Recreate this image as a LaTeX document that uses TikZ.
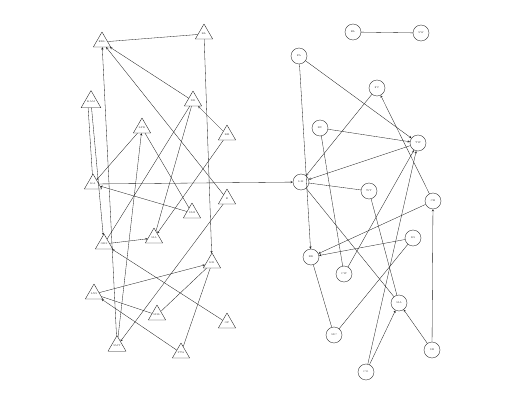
\documentclass[tikz,border=0pt]{standalone}
\usetikzlibrary{shapes.geometric}
\begin{document}
\begin{tikzpicture}[x=0.5mm, y=-0.5mm, font=\fontsize{3.6}{4}\selectfont, line join=round, line cap=round, >=stealth,
	tri/.style={draw, black!90, text=black!80, regular polygon, regular polygon sides=3, minimum size=10mm, inner sep=0pt, line width=0.5pt},
	ring/.style={draw, black!90, text=black!80, circle, minimum size=8mm, inner sep=0pt, line width=0.5pt},
	link/.style={black!90, line width=0.45pt}]
	\useasboundingbox (0,0) rectangle (520,400);
	% left group
	\node[tri] (erl) at (102,42) {ERL};
	\node[tri] (kl) at (204,34) {KL};
	\node[tri] (kam) at (91,102) {KAM};
	\node[tri] (dr) at (193,101) {DR};
	\node[tri] (lpr) at (142,128) {LPR};
	\node[tri] (ke) at (227,135) {KE};
	\node[tri] (ka) at (93,184) {KA};
	\node[tri] (smi) at (192,213) {SMI};
	\node[tri] (e) at (227,199) {E};
	\node[tri] (ma) at (154,238) {MA};
	\node[tri] (grs) at (104,244) {GRS};
	\node[tri] (kr) at (212,263) {KR};
	\node[tri] (lns) at (94,294) {LNS};
	\node[tri] (msl) at (157,315) {MSL};
	\node[tri] (op) at (227,323) {OP};
	\node[tri] (smt) at (117,346) {SMT};
	\node[tri] (pta) at (181,353) {PTA};
	% right group
	\node[ring] (el) at (353,32) {EL};
	\node[ring] (sw) at (421,33) {SW};
	\node[ring] (fa) at (299,56) {FA};
	\node[ring] (fc) at (377,88) {FC};
	\node[ring] (bu) at (320,128) {BU};
	\node[ring] (tw) at (418,143) {TW};
	\node[ring] (lm) at (301,182) {LM};
	\node[ring] (wt) at (369,191) {WT};
	\node[ring] (ch) at (433,201) {CH};
	\node[ring] (rs) at (413,238) {RS};
	\node[ring] (br) at (311,257) {BR};
	\node[ring] (cw) at (344,274) {CW};
	\node[ring] (mb) at (399,303) {MA};
	\node[ring] (mc) at (334,335) {MC};
	\node[ring] (sb) at (432,350) {SB};
	\node[ring] (co) at (366,372) {CO};
	% left links
	\draw[link] (erl) -- (kl);
	\draw[link,->] (kl) -- (kr);
	\draw[link,->] (dr) -- (erl);
	\draw[link,->] (e) -- (erl);
	\draw[link,->] (smt) -- (erl);
	\draw[link] (kam.south west) ++(3,0) -- (ka);
	\draw[link,->] (kam) -- (grs);
	\draw[link,->] (ka) -- (lm);
	\draw[link,->] (lpr) -- (ka);
	\draw[link,->] (smi) -- (ka);
	\draw[link] (lpr) -- (smi);
	\draw[link,->] (ke) -- (dr);
	\draw[link,->] (ke) -- (ma);
	\draw[link] (dr) -- (grs);
	\draw[link] (dr) -- (ma);
	\draw[link,->] (grs) -- (ma);
	\draw[link,->] (op) -- (grs);
	\draw[link,->] (lns) -- (kr);
	\draw[link] (lns) -- (msl);
	\draw[link] (msl) -- (kr);
	\draw[link,->] (pta) -- (lns);
	\draw[link] (pta) -- (kr);
	\draw[link,->] (e) -- (smt);
	\draw[link,->] (smt) -- (lpr);
	% right links
	\draw[link] (el) -- (sw);
	\draw[link,->] (fa) -- (tw);
	\draw[link,->] (fa) -- (br);
	\draw[link,->] (fc) -- (lm);
	\draw[link,->] (ch) -- (fc);
	\draw[link,->] (bu) -- (tw);
	\draw[link,->] (tw) -- (lm);
	\draw[link] (bu) -- (cw);
	\draw[link,->] (cw) -- (tw);
	\draw[link,->] (co) -- (tw);
	\draw[link] (lm) -- (wt);
	\draw[link] (lm) -- (mb);
	\draw[link] (wt) -- (mb);
	\draw[link,->] (ch) -- (br);
	\draw[link,->] (rs) -- (br);
	\draw[link] (rs) -- (mc);
	\draw[link] (br) -- (mc);
	\draw[link,->] (sb) -- (ch);
	\draw[link,->] (sb) -- (mb);
	\draw[link,->] (co) -- (mb);
\end{tikzpicture}
\end{document}
